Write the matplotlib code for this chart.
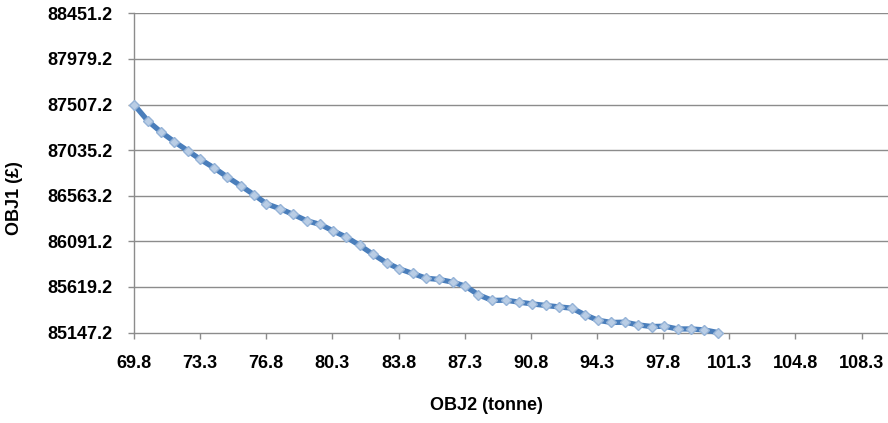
import matplotlib.pyplot as plt
import numpy as np

# OBJ2 (tonne) vs OBJ1 (£)
obj2 = [69.8, 70.54, 71.23, 71.94, 72.65, 73.31, 74.03, 74.72, 75.45, 76.16,
        76.81, 77.54, 78.23, 78.95, 79.66, 80.33, 81.04, 81.75, 82.46, 83.17,
        83.84, 84.55, 85.26, 85.96, 86.67, 87.34, 88.03, 88.76, 89.47, 90.18,
        90.88, 91.59, 92.30, 92.97, 93.68, 94.35, 95.06, 95.77, 96.48, 97.19,
        97.86, 98.57, 99.28, 99.98, 100.69]
obj1 = [87507.2, 87335.8, 87221.9, 87121.4, 87028.0, 86939.0, 86852.0, 86759.0,
        86666.0, 86572.0, 86479.0, 86427.0, 86369.0, 86303.0, 86266.0, 86199.0,
        86134.0, 86048.0, 85955.0, 85868.0, 85806.0, 85758.0, 85709.0, 85696.0,
        85668.0, 85627.0, 85537.0, 85479.0, 85482.0, 85461.0, 85443.0, 85427.0,
        85412.0, 85399.0, 85329.0, 85274.0, 85251.0, 85254.0, 85226.0, 85209.0,
        85212.0, 85184.0, 85184.0, 85174.0, 85147.2]

x_ticks = [69.8, 73.3, 76.8, 80.3, 83.8, 87.3, 90.8, 94.3, 97.8, 101.3, 104.8, 108.3]
y_ticks = [85147.2, 85619.2, 86091.2, 86563.2, 87035.2, 87507.2, 87979.2, 88451.2]

plt.rcParams['font.family'] = ['Liberation Sans', 'DejaVu Sans']

fig = plt.figure(figsize=(8.88, 4.23), dpi=100)
ax = fig.add_axes([134 / 888, 1 - 332.5 / 423, 1 - 134 / 888, (332.5 - 13.3) / 423])

grid_col = '#8c8c8c'
for yv in y_ticks[1:]:
    ax.axhline(yv, color=grid_col, lw=1.0, zorder=1)

ax.plot(obj2, obj1, color='#4a7ebb', lw=3.8, marker='D', markersize=5.5,
        markerfacecolor='#b9cde5', markeredgecolor='#95b3d7',
        markeredgewidth=1.0, zorder=3, clip_on=False)

ax.set_xlim(69.8, 109.7)
ax.set_ylim(85147.2, 88451.2)
ax.set_xticks(x_ticks)
ax.set_yticks(y_ticks)
ax.set_xticklabels([f'{v:.1f}' for v in x_ticks])
ax.set_yticklabels([f'{v:.1f}' for v in y_ticks])

for side in ['top', 'right']:
    ax.spines[side].set_visible(False)
for side in ['left', 'bottom']:
    ax.spines[side].set_color(grid_col)
    ax.spines[side].set_linewidth(1.0)

ax.tick_params(axis='x', direction='out', length=4.5, width=1, color=grid_col,
               pad=12, labelsize=13)
ax.tick_params(axis='y', direction='out', length=4.5, width=1, color=grid_col,
               pad=11, labelsize=13)
for lab in ax.get_xticklabels() + ax.get_yticklabels():
    lab.set_fontweight('bold')

ax.set_xlabel('OBJ2 (tonne)', fontsize=13, fontweight='bold')
ax.set_ylabel('OBJ1 (£)', fontsize=13, fontweight='bold')
ax.xaxis.set_label_coords((486 - 134) / (888 - 134), -(397 - 332.5) / (332.5 - 13.3))
ax.yaxis.set_label_coords(-(134 - 23) / (888 - 134), (332.5 - 198) / (332.5 - 13.3))

fig.savefig('out.png', dpi=100)
